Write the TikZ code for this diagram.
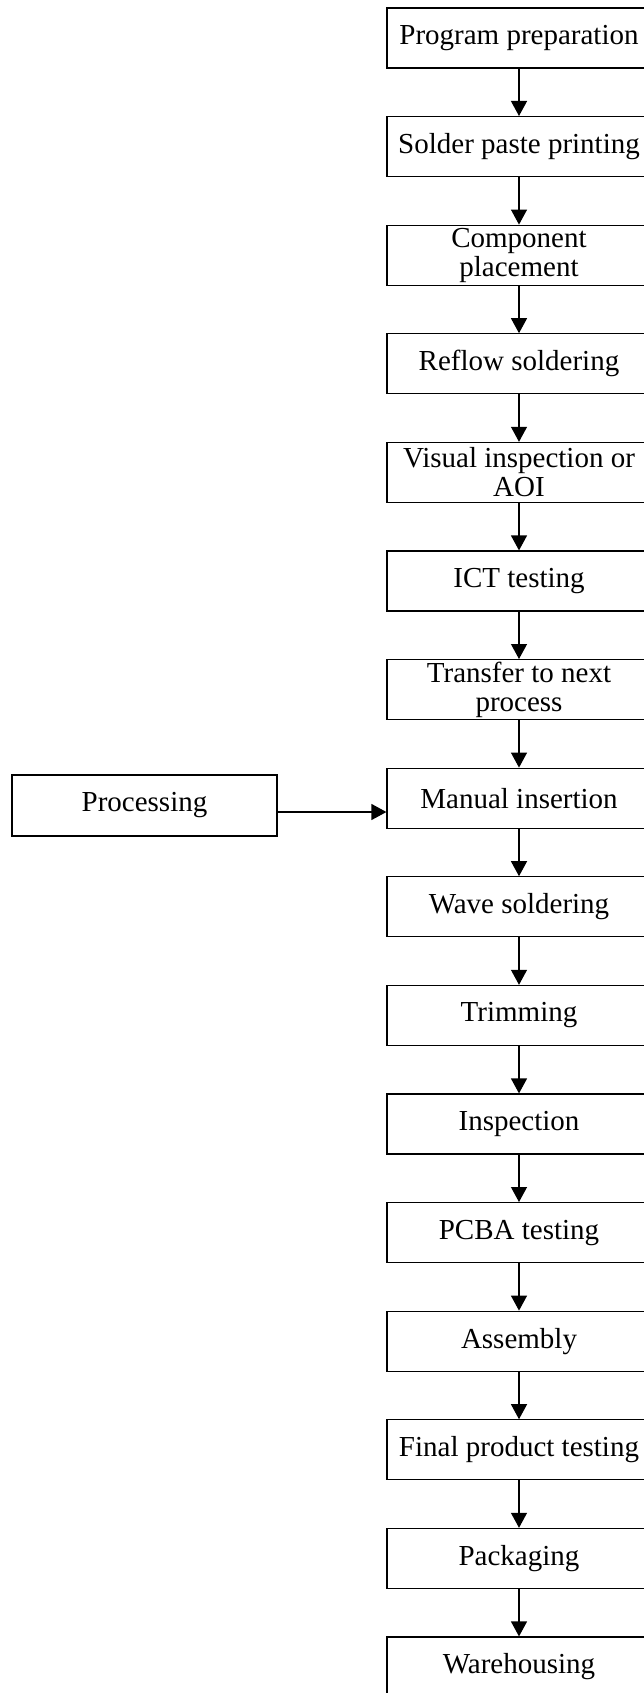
\documentclass[tikz,border=0pt]{standalone}
\usepackage{fontspec}
\setmainfont{Liberation Serif}
\usetikzlibrary{arrows.meta}
\begin{document}
\begin{tikzpicture}[x=1pt,y=-1pt,
  stepbox/.style={draw, line width=1.2pt, minimum width=264pt, minimum height=60pt,
    inner sep=1pt, align=center, font=\fontsize{29}{29}\selectfont},
  arr/.style={line width=1.2pt, -{Triangle[width=16pt,length=15pt]}}]
\useasboundingbox (0,0) rectangle (644,1693);
\def\cx{519}
\foreach \i/\t/\n in {
 0/{Program preparation}/b0,
 1/{Solder paste printing}/b1,
 2/{Component\\placement}/b2,
 3/{Reflow soldering}/b3,
 4/{Visual inspection or\\AOI}/b4,
 5/{ICT testing}/b5,
 6/{Transfer to next\\process}/b6,
 7/{Manual insertion}/b7,
 8/{Wave soldering}/b8,
 9/{Trimming}/b9,
 10/{Inspection}/b10,
 11/{PCBA testing}/b11,
 12/{Assembly}/b12,
 13/{Final product testing}/b13,
 14/{Packaging}/b14,
 15/{Warehousing}/b15}
{
  \node[stepbox] (\n) at (\cx, 38+108.6*\i) {\t};
}
\foreach \a/\b in {b0/b1,b1/b2,b2/b3,b3/b4,b4/b5,b5/b6,b6/b7,b7/b8,b8/b9,b9/b10,b10/b11,b11/b12,b12/b13,b13/b14,b14/b15}
{
  \draw[arr] (\a.south) -- (\b.north);
}
\node[stepbox, minimum width=265pt, minimum height=61pt] (proc) at (144.5,805.5) {Processing};
\draw[arr] ([yshift=-6.5pt]proc.east) -- ([yshift=-6.5pt]proc.east -| b7.west);
\end{tikzpicture}
\end{document}
